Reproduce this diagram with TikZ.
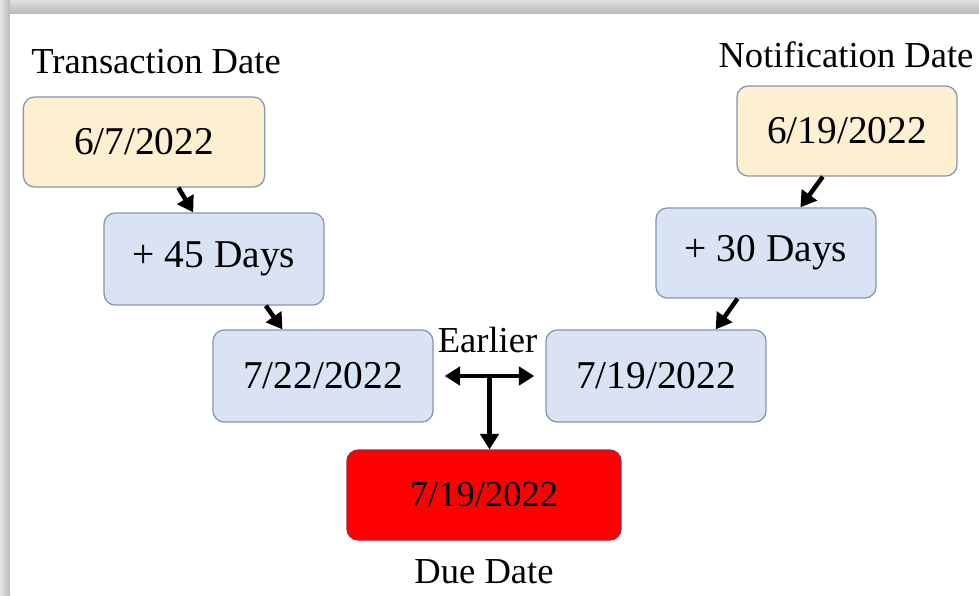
\documentclass[tikz,border=0pt]{standalone}
\usepackage{fontspec}
\setmainfont{Liberation Serif}
\usetikzlibrary{arrows.meta,calc}

\definecolor{datefill}{HTML}{FDF0D0}
\definecolor{stepfill}{HTML}{DAE3F3}
\definecolor{boxline}{HTML}{8497B0}
\definecolor{duefill}{HTML}{FF0000}
\definecolor{dueline}{HTML}{9E2A4A}

\begin{document}
\begin{tikzpicture}[x=0.025cm, y=-0.025cm,
  datebox/.style={draw=boxline, line width=0.9pt, rounded corners=8pt, fill=datefill,
    minimum width=5.5cm, minimum height=2.25cm, font=\fontsize{28}{32}\selectfont},
  stepbox/.style={datebox, fill=stepfill, minimum height=2.3cm},
  duebox/.style={datebox, draw=dueline, fill=duefill, minimum width=6.85cm, font=\fontsize{26}{30}\selectfont},
  lbl/.style={font=\fontsize{26}{30}\selectfont},
  arr/.style={-{Triangle[length=11pt,width=13pt]}, line width=3.2pt}]
\useasboundingbox (0,0) rectangle (979,595);

% Shadow frame
\shade[top color=gray!25, bottom color=gray!55] (0,0) rectangle (979,14);
\shade[left color=gray!20, right color=gray!55] (0,0) rectangle (10,595);
\fill[white] (10,14) rectangle (979,595);

% Left branch
\node[lbl] (tlab) at (156,62) {Transaction Date};
\node[datebox, minimum width=6.03cm] (tdate) at (144,142) {6/7/2022};
\node[stepbox] (add45) at (214,259) {+ 45 Days};
\node[stepbox] (d1) at (323,376) {7/22/2022};

% Right branch
\node[lbl] (nlab) at (846,55) {Notification Date};
\node[datebox] (ndate) at (847,131) {6/19/2022};
\node[stepbox, minimum height=2.25cm] (add30) at (766,253) {+ 30 Days};
\node[stepbox] (d2) at (656,376) {7/19/2022};

% Result
\node[duebox] (due) at (484,495) {7/19/2022};
\node[lbl] (duelab) at (484,572) {Due Date};

% Arrows
\draw[arr] (tdate.-53) -- (add45.114);
\draw[arr] (add45.-42) -- (d1.131);
\draw[arr] (ndate.242) -- (add30.53);
\draw[arr] (add30.238) -- (d2.38);

% Comparison
\coordinate (mid) at ($(d1.east)!0.5!(d2.west)$);
\node[lbl] (earlier) at ($(mid)+(-2,-36)$) {Earlier};
\draw[{Triangle[length=11pt,width=13pt]}-{Triangle[length=11pt,width=13pt]}, line width=3.2pt,
  shorten <=11*0.7113pt, shorten >=11*0.7113pt] (d1.east) -- (d2.west);
\draw[arr] (mid) -- (mid |- due.north);

\end{tikzpicture}
\end{document}
